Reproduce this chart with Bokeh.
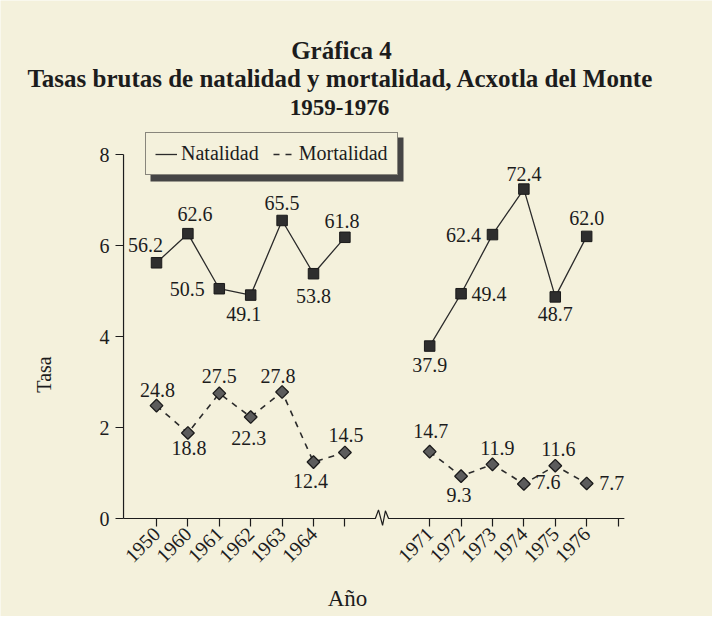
import math
from bokeh.plotting import figure
from bokeh.models import (ColumnDataSource, FixedTicker, LabelSet, Label, Legend,
                          LegendItem, BoxAnnotation)
from bokeh.core.properties import value
from bokeh.embed import file_html
from bokeh.resources import INLINE

# ---------------- data ----------------
tick_labels_1 = ["1950", "1960", "1961", "1962", "1963", "1964", ""]
tick_labels_2 = ["1971", "1972", "1973", "1974", "1975", "1976", ""]
natalidad_1 = [56.2, 62.6, 50.5, 49.1, 65.5, 53.8, 61.8]
mortalidad_1 = [24.8, 18.8, 27.5, 22.3, 27.8, 12.4, 14.5]
natalidad_2 = [37.9, 49.4, 62.4, 72.4, 48.7, 62.0]
mortalidad_2 = [14.7, 9.3, 11.9, 7.6, 11.6, 7.7]
y_ticks = [0, 20, 40, 60, 80]
y_tick_labels = ["0", "2", "4", "6", "8"]

# ---------------- layout / style ----------------
W, H = 712, 616
X0_PX, XS = 156, 3.14      # pixel of first category, px per x unit
Y0_PX, YS = 518, 4.55      # pixel of value 0, px per y unit
STEP = 10
SEG2_START = 87
AX_X0, AX_X1, AX_Y1 = -10.5, 149, 80
pos_1 = [i * STEP for i in range(len(tick_labels_1))]
pos_2 = [SEG2_START + i * STEP for i in range(len(tick_labels_2))]

# label offsets (screen px, y up)
off_nat_1 = [(-11, 18), (7, 20), (-32, 0), (-7, -19), (0, 17), (0, -22), (-3, 16)]
off_nat_2 = [(0, -19), (28, 0), (-29, 0), (0, 15), (0, -17), (0, 18)]
off_mor_1 = [(1, 16), (1, -15), (0, 17), (-2, -21), (-4, 16), (-3, -19), (1, 18)]
off_mor_2 = [(1, 21), (-2, -19), (5, 16), (24, 2), (3, 17), (25, 0)]

BG = "#f4f1dc"
INK = "#1c1c1c"
FONT = "Liberation Serif"

p = figure(width=W, height=H, output_backend="svg", toolbar_location=None,
           x_range=(-X0_PX / XS, (W - X0_PX) / XS),
           y_range=(-(H - Y0_PX) / YS, Y0_PX / YS),
           min_border=0)
p.background_fill_color = BG
p.border_fill_color = BG
p.outline_line_color = None
p.grid.grid_line_color = None

# axes (library axes placed at fixed data locations)
p.xaxis.fixed_location = 0
p.yaxis.fixed_location = AX_X0
p.xaxis.ticker = FixedTicker(ticks=pos_1 + pos_2)
p.xaxis.major_label_overrides = {x: t for x, t in zip(pos_1 + pos_2, tick_labels_1 + tick_labels_2)}
p.xaxis.major_label_orientation = math.pi / 4
p.yaxis.ticker = FixedTicker(ticks=y_ticks)
p.yaxis.major_label_overrides = {v: t for v, t in zip(y_ticks, y_tick_labels)}
for ax in (p.xaxis[0], p.yaxis[0]):
    ax.axis_line_color = None
    ax.minor_tick_line_color = None
    ax.major_tick_in = 0
    ax.major_tick_out = 8
    ax.major_tick_line_color = INK
    ax.major_tick_line_width = 1.2
    ax.major_label_text_font = FONT
    ax.major_label_text_font_size = "20px"
    ax.major_label_text_color = INK
p.xaxis.major_label_standoff = 4
p.yaxis.major_label_standoff = 6

# axis lines (x axis with a break)
p.line([AX_X0, AX_X0], [0, AX_Y1], line_color=INK, line_width=1.2)
p.line([AX_X0, 69.7, 70.7, 72.0, 72.9, 73.9, AX_X1], [0, 0, 1.9, -1.5, 1.7, 0, 0],
       line_color=INK, line_width=1.2)

# series
renderers = {}
for name, pos, vals, offs in [("n1", pos_1, natalidad_1, off_nat_1), ("n2", pos_2, natalidad_2, off_nat_2),
                              ("m1", pos_1, mortalidad_1, off_mor_1), ("m2", pos_2, mortalidad_2, off_mor_2)]:
    src = ColumnDataSource(dict(x=pos[:len(vals)], y=vals,
                                lbl=["%.1f" % v for v in vals],
                                dx=[o[0] for o in offs], dy=[o[1] for o in offs]))
    if name.startswith("n"):
        ln = p.line("x", "y", source=src, line_color="#2b2b2b", line_width=1.3)
        p.scatter("x", "y", source=src, marker="square", size=10.5,
                  fill_color="#2e2e2e", line_color="#1a1a1a")
    else:
        ln = p.line("x", "y", source=src, line_color="#2b2b2b", line_width=1.6, line_dash="6 6")
        p.scatter("x", "y", source=src, marker="square", angle=math.pi / 4, size=9,
                  fill_color="#5c5c5c", line_color="#1a1a1a", line_width=1.3)
    renderers[name] = ln
    p.add_layout(LabelSet(x="x", y="y", text="lbl", source=src, x_offset="dx", y_offset="dy",
                          text_align="center", text_baseline="middle",
                          text_font=value(FONT), text_font_size="20px", text_color=INK))

# legend with shadow
p.add_layout(BoxAnnotation(left=150, right=151 + 252, bottom=H - 181, top=H - 137,
                           left_units="screen", right_units="screen",
                           bottom_units="screen", top_units="screen",
                           fill_color="#454545", fill_alpha=1, line_color=None))
legend = Legend(items=[LegendItem(label="Natalidad", renderers=[renderers["n1"]]),
                       LegendItem(label="Mortalidad", renderers=[renderers["m1"]])],
                location=(145, H - 175), orientation="horizontal",
                label_text_font=FONT, label_text_font_size="20px", label_text_color=INK,
                border_line_color=INK, border_line_width=1.5,
                background_fill_color=BG, background_fill_alpha=1,
                padding=9, spacing=14, glyph_width=22, label_standoff=4, margin=0)
p.add_layout(legend)

# titles and axis labels (screen px from the bottom-left corner)
for txt, x, y, size in [("Gráfica 4", 341, H - 50, "25px"),
                        ("Tasas brutas de natalidad y mortalidad, Acxotla del Monte", 340, H - 78, "25px"),
                        ("1959-1976", 339, H - 107, "23px")]:
    p.add_layout(Label(x=x, y=y, x_units="screen", y_units="screen", text=txt,
                       text_align="center", text_baseline="alphabetic", text_font=FONT,
                       text_font_size=size, text_font_style="bold", text_color=INK))
p.add_layout(Label(x=43, y=H - 374, x_units="screen", y_units="screen", text="Tasa", angle=math.pi / 2,
                   text_align="center", text_baseline="middle", text_font=FONT,
                   text_font_size="20px", text_color=INK))
p.add_layout(Label(x=347, y=H - 598, x_units="screen", y_units="screen", text="Año",
                   text_align="center", text_baseline="middle", text_font=FONT,
                   text_font_size="23px", text_color=INK))

open("out.html", "w").write(file_html(p, INLINE))
